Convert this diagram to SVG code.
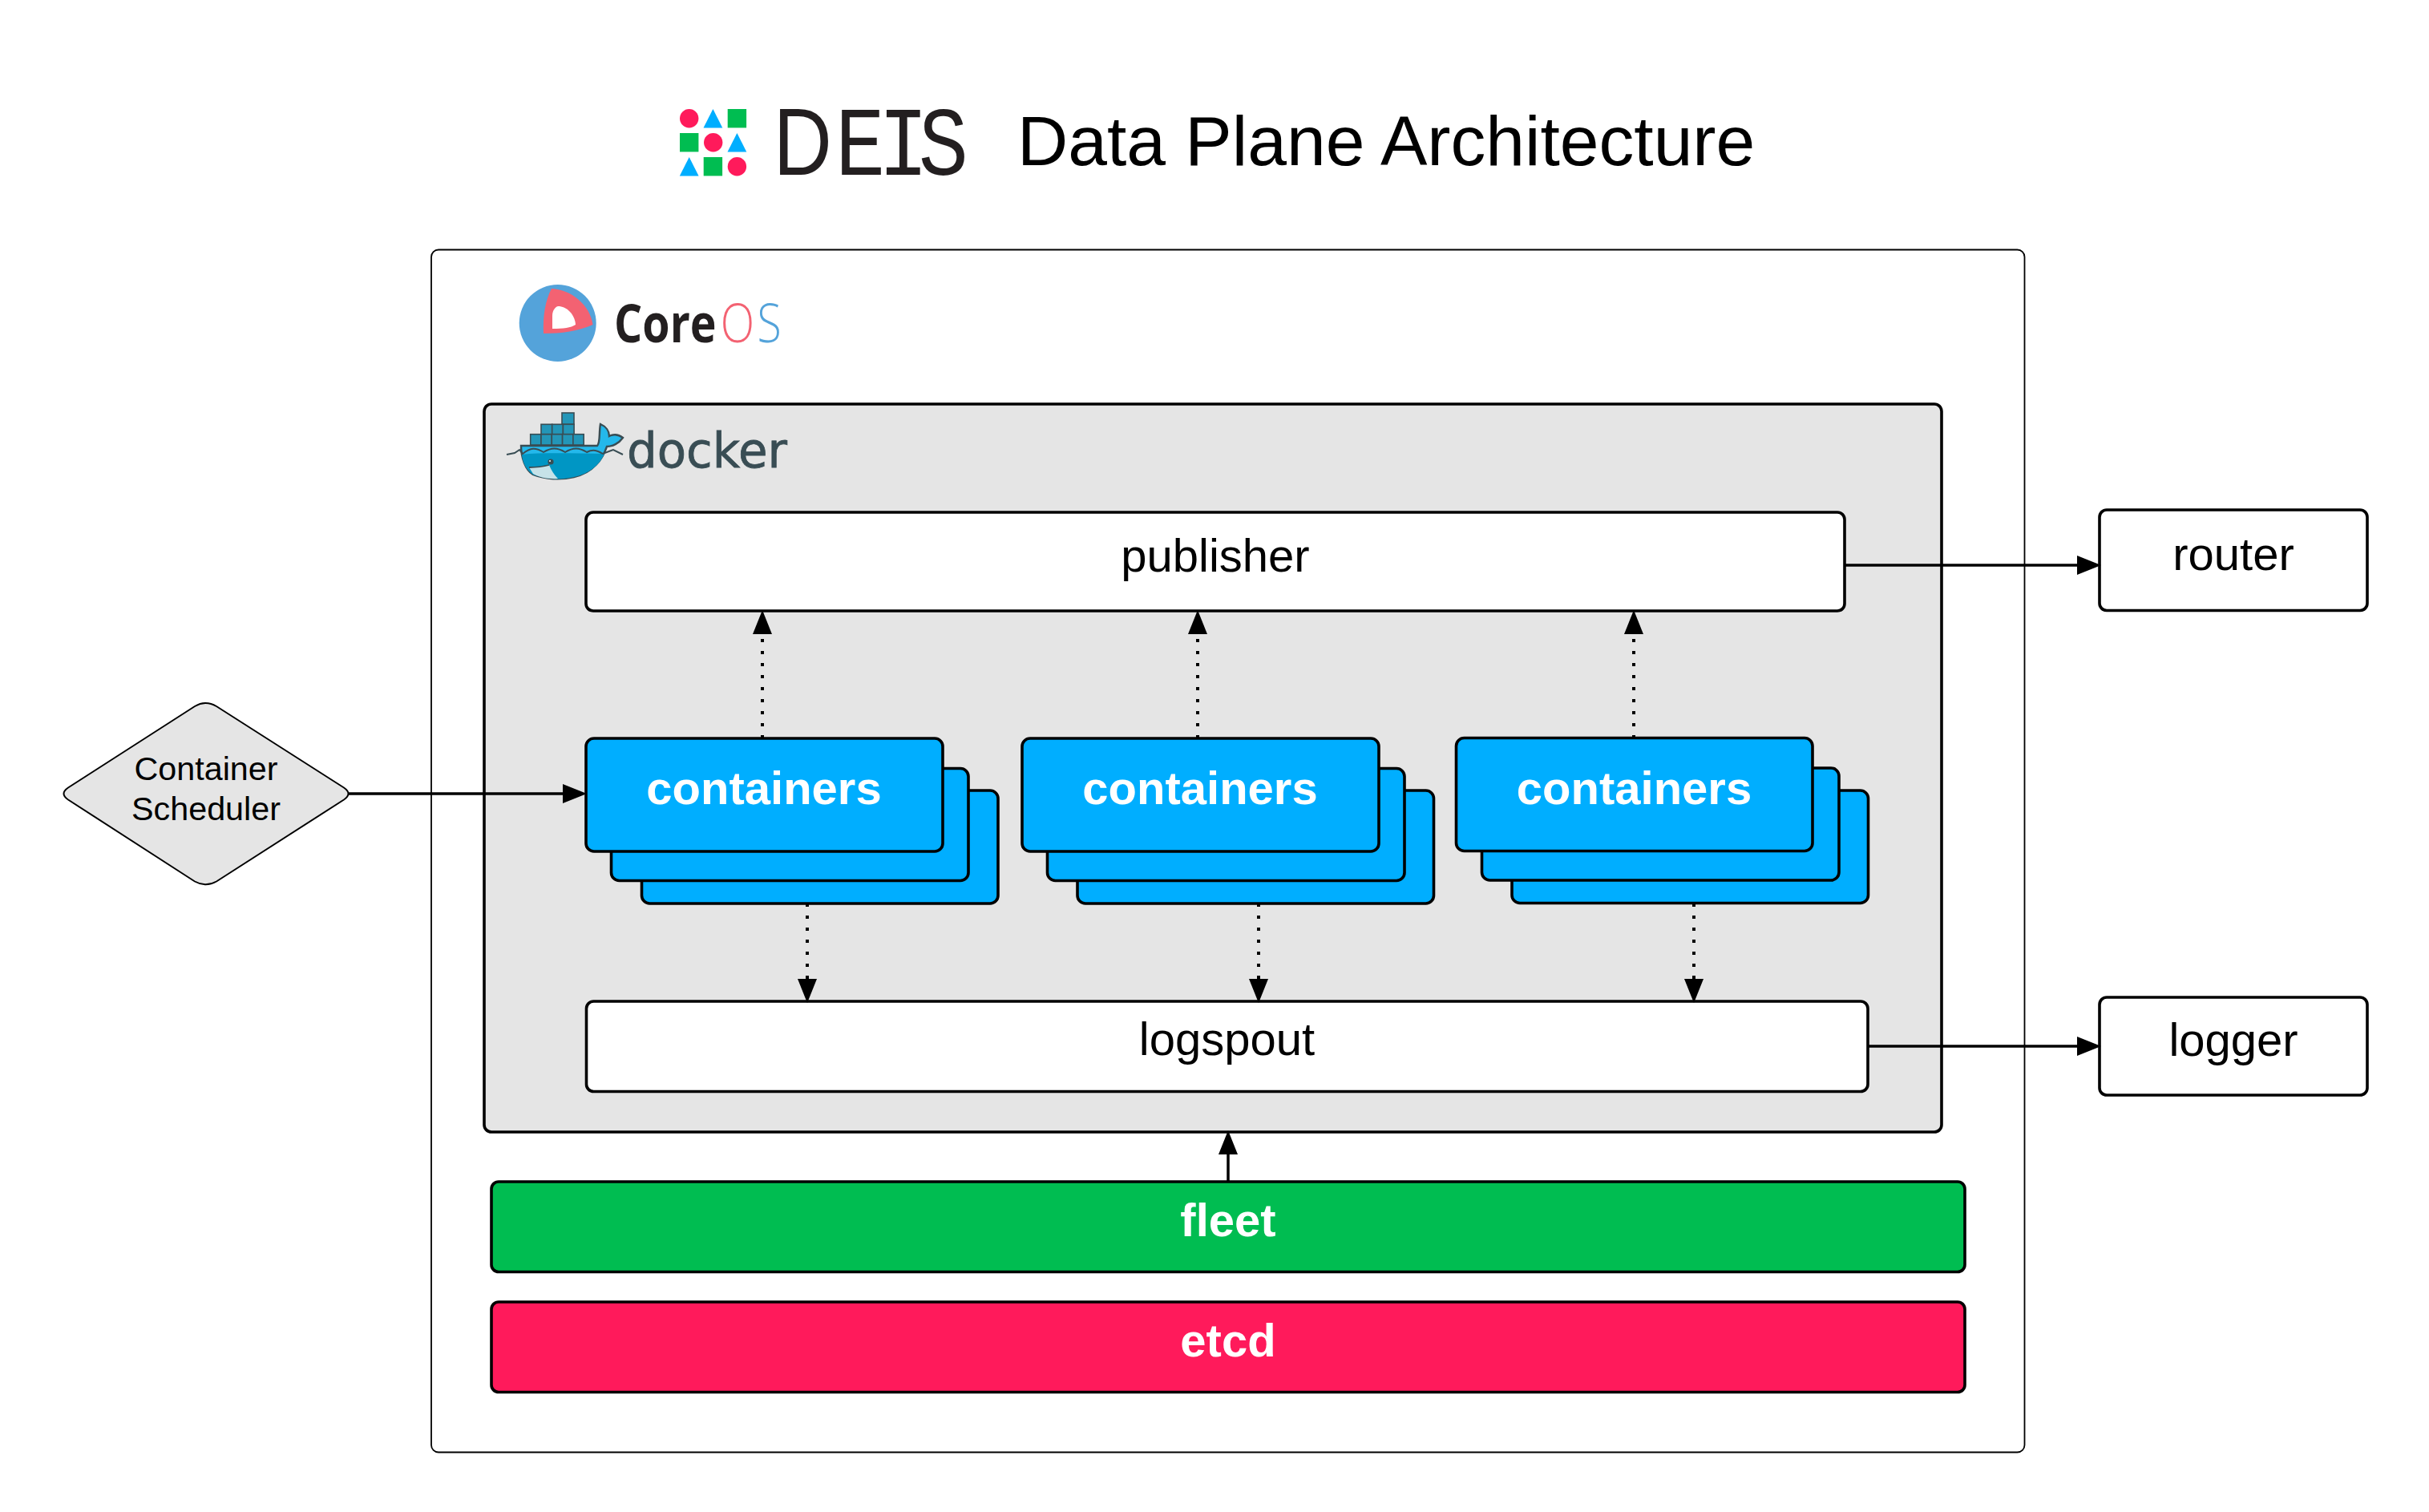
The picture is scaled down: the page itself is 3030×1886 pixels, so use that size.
<svg xmlns="http://www.w3.org/2000/svg" width="3030" height="1886" viewBox="0 0 3030 1886">
<style>
text{font-family:"Liberation Sans",Arial,sans-serif;fill:#000}
.n{stroke:#000;stroke-width:3.6}
.w{fill:#fff}
.b{fill:#00AEFF}
.t{font-size:58px;text-anchor:middle}
.h{font-size:58px;font-weight:700;fill:#fff;text-anchor:middle}
.c{stroke:#000;stroke-width:3.5;fill:none}
.d{stroke:#000;stroke-width:4;stroke-dasharray:4 11;fill:none}
.ck{fill:#2396B8;stroke:#394D54;stroke-width:1.6}
.pk{fill:#FF1A5B}.bl{fill:#00AEFF}.gr{fill:#00BD51}
</style>
<defs>
<marker id="a" markerUnits="userSpaceOnUse" markerWidth="32" markerHeight="26" refX="8" refY="12" orient="auto"><path d="M0,0 L30,12 L0,24 Z" fill="#000"/></marker>
</defs>
<rect width="3030" height="1886" fill="#fff"/>
<g id="title">
<g id="deis-mark">
<circle class="pk" cx="859.7" cy="147.7" r="11.7"/><path class="bl" d="M889.4,136 L901.3,159.4 H877.5 Z"/><rect class="gr" x="907.7" y="136" width="23.4" height="23.4"/>
<rect class="gr" x="848" y="166" width="23.4" height="23.4"/><circle class="pk" cx="889.7" cy="177.7" r="11.7"/><path class="bl" d="M919.4,166 L931.3,189.4 H907.5 Z"/>
<path class="bl" d="M859.7,196 L871.6,219.4 H847.8 Z"/><rect class="gr" x="877.7" y="196" width="23.4" height="23.4"/><circle class="pk" cx="919.4" cy="207.7" r="11.7"/>
</g>
<text id="deis-word" transform="translate(0 218) scale(.85 1)" x="1135 1226 1289 1348" y="0" font-size="122" style="font-family:'Liberation Mono',monospace;fill:#231F20"><tspan font-size="119" style="font-family:'Liberation Sans',sans-serif;fill:#231F20">D</tspan>EIS</text>
<text x="1269" y="206" font-size="87.6">Data Plane Architecture</text>
</g>
<g id="coreos-frame"><rect x="538" y="311.5" width="1987.5" height="1500" rx="9" fill="#fff" stroke="#000" stroke-width="1.8"/></g>
<g id="coreos-logo">
<circle cx="695.7" cy="403" r="48" fill="#54A3DA"/>
<path d="M688,360 C712,361 736,380 739.5,405 C722,413 700,416 678,416 C677,395 680,375 688,360 Z" fill="#F36272"/>
<path d="M696,382 C707,382 717,392 718,405 C712,409 703,410 689,410 L689,394 C689,388 692,383 696,382 Z" fill="#fff"/>
<text transform="translate(766 427) scale(.84 1)" font-size="66" style="font-family:'Open Sans',sans-serif"><tspan font-weight="700" style="fill:#231F20">Core</tspan><tspan x="158" font-weight="300" letter-spacing="4" style="fill:#F36272">O</tspan><tspan font-weight="300" style="fill:#54A3DA">S</tspan></text>
</g>
<g id="docker"><rect class="n" x="604" y="504" width="1818" height="908" rx="9" fill="#E5E5E5"/>
<g id="docker-logo">
<path d="M650,556 H745 C749,552 747,540 749,529 C756,532 760,538 760,544 C766,541 772,542 777,546 C772,553 764,557 757,557 C752,572 740,590 716,595 C700,599 680,598 665,592 C655,586 650,570 650,556 Z" fill="#24B8EB" stroke="#394D54" stroke-width="2.4"/>
<path d="M651,567 C680,564 720,566 754,566 C748,580 735,591 716,595 C700,599 680,598 665,592 C656,586 652,577 651,567 Z" fill="#0096C4"/>
<path d="M660,583 C668,583 678,582 685,580 C688,587 691,592 696,597 C684,598 672,595 665,591 Z" fill="#C6E2E8"/>
<path d="M660,583 C668,583 678,582 685,580" fill="none" stroke="#394D54" stroke-width="1.8"/>
<path d="M632,567 L642,565 L648,561 L652,566 C662,558 668,558 678,564 C688,558 695,558 705,564 C715,558 722,558 732,564 C740,560 745,562 752,566 L765,561 L777,567" fill="none" stroke="#394D54" stroke-width="2"/>
<circle cx="687" cy="576" r="3.6" fill="#394D54"/><circle cx="686" cy="575" r="1" fill="#fff"/>
<rect class="ck" x="701" y="515" width="15" height="14.3"/>
<rect class="ck" x="675" y="529.3" width="13.7" height="12.4"/><rect class="ck" x="688.7" y="529.3" width="13.7" height="12.4"/><rect class="ck" x="702.4" y="529.3" width="13.7" height="12.4"/>
<rect class="ck" x="661.7" y="541.7" width="13.3" height="13.3"/><rect class="ck" x="675" y="541.7" width="13.3" height="13.3"/><rect class="ck" x="688.3" y="541.7" width="13.3" height="13.3"/><rect class="ck" x="701.6" y="541.7" width="13.3" height="13.3"/><rect class="ck" x="714.9" y="541.7" width="13.3" height="13.3"/>
<text x="782" y="583" font-size="60" textLength="200" lengthAdjust="spacingAndGlyphs" stroke="#394D54" stroke-width=".8" style="font-family:'DejaVu Sans',sans-serif;fill:#394D54">docker</text>
</g></g>
<g id="publisher"><rect class="n w" x="731" y="639" width="1570" height="123" rx="9"/><text class="t" x="1516" y="713">publisher</text></g>
<g id="containers-1">
<rect class="n b" x="800.5" y="986" width="444.5" height="141" rx="10"/><rect class="n b" x="762.5" y="958.5" width="445.5" height="140" rx="10"/><rect class="n b" x="731" y="921" width="445" height="141" rx="10"/>
<text class="h" x="953" y="1003">containers</text></g>
<g id="containers-2">
<rect class="n b" x="1344" y="986" width="444.5" height="141" rx="10"/><rect class="n b" x="1306.5" y="958.5" width="445.5" height="140" rx="10"/><rect class="n b" x="1275" y="921" width="445" height="141" rx="10"/>
<text class="h" x="1497" y="1003">containers</text></g>
<g id="containers-3">
<rect class="n b" x="1886" y="986" width="444.5" height="140.5" rx="10"/><rect class="n b" x="1848.5" y="958" width="445.5" height="140" rx="10"/><rect class="n b" x="1816.5" y="920.5" width="444.5" height="141" rx="10"/>
<text class="h" x="2038.5" y="1002.5">containers</text></g>
<g id="logspout"><rect class="n w" x="731.5" y="1249" width="1598.5" height="112.5" rx="9"/><text class="t" x="1530.5" y="1316">logspout</text></g>
<g id="fleet"><rect class="n gr" x="613" y="1474" width="1838" height="112.5" rx="9"/><text class="h" x="1532" y="1541.5">fleet</text></g>
<g id="etcd"><rect class="n pk" x="613" y="1624" width="1838" height="112.5" rx="9"/><text class="h" x="1532" y="1691.5">etcd</text></g>
<g id="scheduler"><path d="M243,881 Q256.5,873 270,881 L429,982.5 Q440,990 429,997.5 L270,1099.5 Q256.5,1107 243,1099.5 L85,997.5 Q74,990 85,982.5 Z" fill="#E5E5E5" stroke="#000" stroke-width="2"/>
<text x="257" y="973" font-size="41.3" text-anchor="middle">Container</text><text x="257" y="1023" font-size="41.3" text-anchor="middle">Scheduler</text></g>
<g id="router"><rect class="n w" x="2619" y="636" width="334" height="125.5" rx="9"/><text class="t" x="2786" y="711">router</text></g>
<g id="logger"><rect class="n w" x="2619" y="1244" width="334" height="122" rx="9"/><text class="t" x="2786" y="1317">logger</text></g>
<g id="connectors">
<line class="c" x1="435" y1="990" x2="710" y2="990" marker-end="url(#a)"/>
<line class="c" x1="2301" y1="705" x2="2599" y2="705" marker-end="url(#a)"/>
<line class="c" x1="2330" y1="1305" x2="2599" y2="1305" marker-end="url(#a)"/>
<line class="c" x1="1532" y1="1474" x2="1532" y2="1432" marker-end="url(#a)"/>
<line class="d" x1="951" y1="921" x2="951" y2="783" marker-end="url(#a)"/>
<line class="d" x1="1494" y1="921" x2="1494" y2="783" marker-end="url(#a)"/>
<line class="d" x1="2038" y1="921" x2="2038" y2="783" marker-end="url(#a)"/>
<line class="d" x1="1007" y1="1127" x2="1007" y2="1229" marker-end="url(#a)"/>
<line class="d" x1="1570" y1="1127" x2="1570" y2="1229" marker-end="url(#a)"/>
<line class="d" x1="2113" y1="1127" x2="2113" y2="1229" marker-end="url(#a)"/>
</g>
</svg>
